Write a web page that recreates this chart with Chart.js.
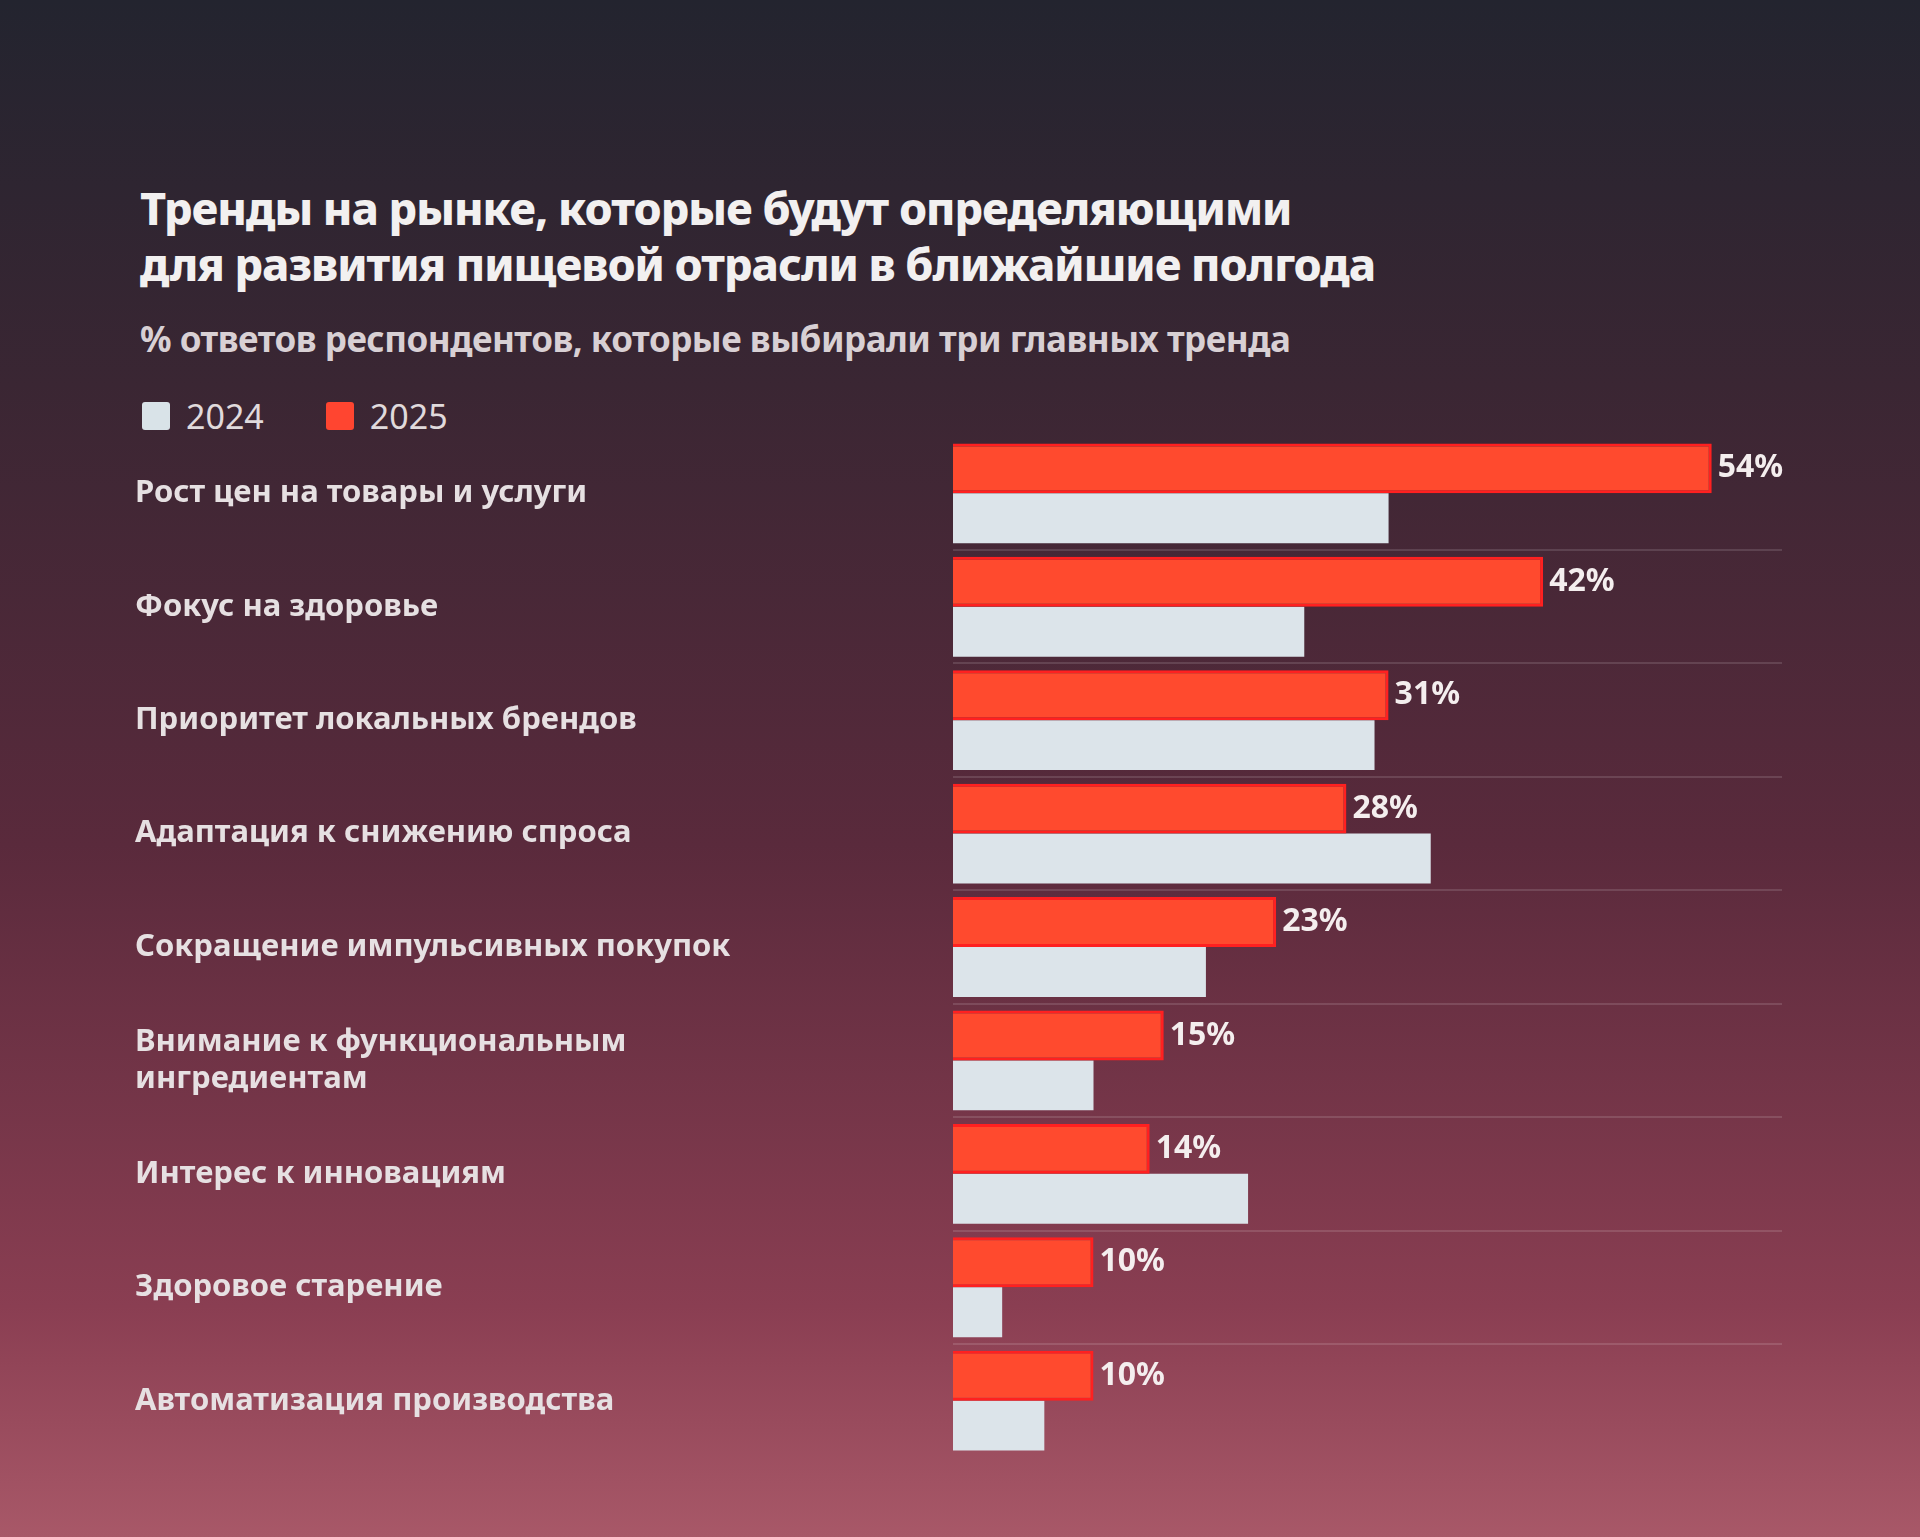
<!DOCTYPE html>
<html><head><meta charset="utf-8">
<script src="https://cdn.jsdelivr.net/npm/chart.js"></script>
<style>
html,body{margin:0;width:1920px;height:1537px;overflow:hidden;font-family:"Noto Sans",sans-serif;}
body{background:linear-gradient(180deg,#23242f 0%,#3a2633 25%,#5a2a3c 55%,#8a3e52 85%,#a85868 100%);color:#f2f0f0;position:relative;}
#title{position:absolute;left:140px;top:180px;font-size:45px;font-weight:800;line-height:56px;letter-spacing:-1px;}
#sub{position:absolute;left:140px;top:315px;font-size:35px;font-weight:700;color:#d8d0d4;letter-spacing:-0.5px;}
#legend{position:absolute;left:142px;top:393px;font-size:34px;color:#e0dadc;display:flex;gap:62px;}
#legend span{display:inline-flex;align-items:center;gap:16px;}
#legend i{display:inline-block;width:28px;height:28px;border-radius:3px;}
#wrap{position:absolute;left:0;top:418px;width:1920px;height:1058px;}
</style></head><body>
<div id="title">Тренды на рынке, которые будут определяющими<br>для развития пищевой отрасли в ближайшие полгода</div>
<div id="sub">% ответов респондентов, которые выбирали три главных тренда</div>
<div id="legend"><span><i style="background:#d9e3e8"></i>2024</span><span><i style="background:#ff4530"></i>2025</span></div>
<div id="wrap"><canvas id="c"></canvas></div>
<script>
const categories = [
  "Рост цен на товары и услуги",
  "Фокус на здоровье",
  "Приоритет локальных брендов",
  "Адаптация к снижению спроса",
  "Сокращение импульсивных покупок",
  ["Внимание к функциональным", "ингредиентам"],
  "Интерес к инновациям",
  "Здоровое старение",
  "Автоматизация производства"
];
const values2025 = [54, 42, 31, 28, 23, 15, 14, 10, 10];
const values2024 = [31, 25, 30, 34, 18, 10, 21, 3.5, 6.5];

const valueLabels = {
  id: 'valueLabels',
  afterDatasetsDraw(chart) {
    const ctx = chart.ctx;
    const meta = chart.getDatasetMeta(0);
    ctx.save();
    ctx.font = 'bold 32px "Noto Sans"';
    ctx.fillStyle = '#f4eeee';
    ctx.textBaseline = 'middle';
    meta.data.forEach((bar, i) => {
      ctx.fillText(values2025[i] + '%', bar.x + 6, bar.y);
    });
    ctx.restore();
  }
};

new Chart(document.getElementById('c'), {
  type: 'bar',
  data: {
    labels: categories,
    datasets: [
      {label: '2025', data: values2025, backgroundColor: '#ff4a2e', borderColor: '#ff2020', borderWidth: 3, borderSkipped: 'start'},
      {label: '2024', data: values2024, backgroundColor: '#dce4ea', borderWidth: 0}
    ]
  },
  options: {
    indexAxis: 'y',
    responsive: true,
    maintainAspectRatio: false,
    animation: false,
    layout: {padding: {left: 135, right: 138}},
    categoryPercentage: 0.88,
    barPercentage: 1,
    plugins: {legend: {display: false}, tooltip: {enabled: false}},
    scales: {
      x: {min: 0, max: 59, display: false},
      y: {
        afterFit: s => { s.width = 818; },
        border: {display: false},
        grid: {offset: true, lineWidth: 2, drawTicks: false,
          color: c => (c.index === 0 || c.index >= categories.length || c.tick === undefined) ? 'rgba(0,0,0,0)' : 'rgba(255,255,255,0.13)'},
        ticks: {crossAlign: 'far', color: '#e6e0e2', padding: 0, font: {family: 'Noto Sans', size: 31, weight: 'bold'}}
      }
    }
  },
  plugins: [valueLabels]
});
</script>
</body></html>
